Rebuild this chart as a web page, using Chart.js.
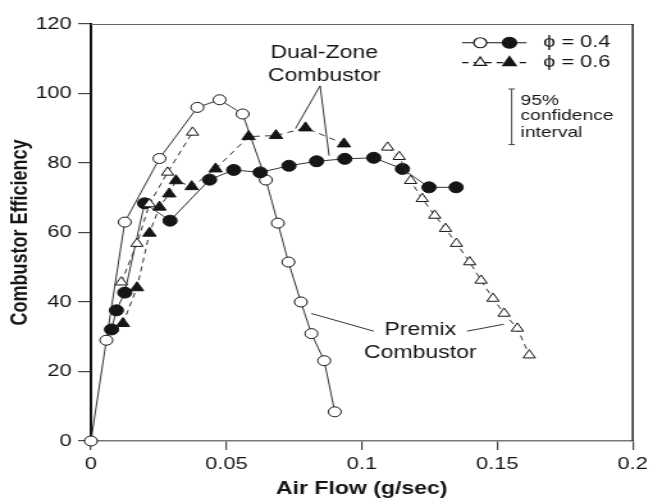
<!DOCTYPE html>
<html>
<head>
<meta charset="utf-8">
<script src="https://cdn.jsdelivr.net/npm/chart.js@4.4.0/dist/chart.umd.min.js"></script>
<style>
  html, body { margin: 0; padding: 0; background: #fff; overflow: hidden; }
  /* the source picture is stretched sideways, so draw narrow and stretch */
  #wrap { position: absolute; left: 0; top: 0; width: 510px; height: 500px;
          transform-origin: 0 0; transform: scaleX(1.2804); }
</style>
</head>
<body>
<div id="wrap"><canvas id="chart"></canvas></div>
<script>
// Premix combustor, phi = 0.4 (open circles)
const premix04X = [0, 0.0057, 0.0125, 0.0253, 0.0393, 0.0475, 0.056, 0.0646, 0.069, 0.0729, 0.0775, 0.0814, 0.0861, 0.090];
const premix04Y = [0, 29, 63, 81.3, 96, 98.2, 94.1, 75.1, 62.7, 51.5, 40, 30.9, 23.1, 8.4];

// Dual-zone combustor, phi = 0.4 (filled circles)
const dual04X = [0.0076, 0.0094, 0.0125, 0.0198, 0.0292, 0.0438, 0.0527, 0.0625, 0.0731, 0.0833, 0.0937, 0.1044, 0.115, 0.1248, 0.1348];
const dual04Y = [32.1, 37.6, 42.7, 68.4, 63.4, 75.2, 78.0, 77.3, 79.2, 80.5, 81.2, 81.5, 78.3, 73.0, 73.0];

// Premix combustor, phi = 0.6 (open triangles) - no data between the two branches
const premix06X = [0.0112, 0.017, 0.0216, 0.0283, 0.0375, 0.07, 0.1095, 0.1138, 0.118, 0.1223, 0.1269, 0.1309, 0.1349, 0.1398, 0.144, 0.1484, 0.1525, 0.1574, 0.1618];
const premix06Y = [45.7, 56.8, 68.2, 77.3, 88.8, null, 84.5, 81.8, 74.9, 69.7, 64.9, 61.1, 56.8, 51.5, 46.2, 41.0, 36.7, 32.4, 24.7];

// Dual-zone combustor, phi = 0.6 (filled triangles)
const dual06X = [0.0118, 0.017, 0.0216, 0.0253, 0.0289, 0.0314, 0.0372, 0.046, 0.0582, 0.0683, 0.0792, 0.0934];
const dual06Y = [33.8, 44.1, 59.8, 67.3, 71.1, 74.9, 73.2, 78.3, 87.6, 87.9, 90.1, 85.5];

const xTicks = [0, 0.05, 0.1, 0.15, 0.2];
const xTickLabels = ['0', '0.05', '0.1', '0.15', '0.2'];
const yTicks = [0, 20, 40, 60, 80, 100, 120];
const yTickLabels = ['0', '20', '40', '60', '80', '100', '120'];

const FONT = '"Liberation Sans", Arial, Helvetica, sans-serif';
const INK = '#151515';

function pts(xs, ys) {
  return xs.map((x, i) => ({ x: x, y: ys[i] }));
}

// where the notes sit, in data units
const notes = {
  dual: { x: 0.0861, y1: 111.7, y2: 105.1, apex: [0.0846, 102.2], ends: [[0.0755, 89.9], [0.0879, 82.1]] },
  premix: { x: 0.1216, y1: 31.9, y2: 25.3, lines: [[[0.0813, 36.7], [0.1044, 31.6]], [[0.1388, 31.6], [0.1524, 33.6]]] },
  legend: { x0: 0.137, x1: 0.1608, m1: 0.1437, m2: 0.1545, tx: 0.1669, y1: 114.6, y2: 108.9 },
  ci: { x: 0.1553, top: 101.3, bottom: 85.3, tx: 0.1586, ys: [97.9, 93.6, 88.8] }
};

function tri(ctx, x, y, r, fill) {
  ctx.beginPath();
  ctx.moveTo(x, y - r);
  ctx.lineTo(x + r * 0.866, y + r * 0.5);
  ctx.lineTo(x - r * 0.866, y + r * 0.5);
  ctx.closePath();
  ctx.fillStyle = fill ? INK : '#fff';
  ctx.fill();
  ctx.stroke();
}

function circ(ctx, x, y, r, fill) {
  ctx.beginPath();
  ctx.arc(x, y, r, 0, Math.PI * 2);
  ctx.fillStyle = fill ? INK : '#fff';
  ctx.fill();
  ctx.stroke();
}

const overlay = {
  id: 'overlay',
  beforeDatasetsDraw(chart) {
    const { ctx, chartArea: a } = chart;
    ctx.save();
    ctx.strokeStyle = '#666';
    ctx.lineWidth = 1;
    ctx.beginPath();
    ctx.moveTo(a.left, a.top + 0.5);
    ctx.lineTo(a.right, a.top + 0.5);
    ctx.stroke();
    ctx.strokeStyle = '#111';
    ctx.lineWidth = 1.4;
    ctx.beginPath();
    ctx.moveTo(a.right, a.top);
    ctx.lineTo(a.right, a.bottom);
    ctx.stroke();
    ctx.restore();
  },
  afterDatasetsDraw(chart) {
    const { ctx, scales: { x, y } } = chart;
    const px = v => x.getPixelForValue(v);
    const py = v => y.getPixelForValue(v);
    ctx.save();
    ctx.fillStyle = INK;
    ctx.strokeStyle = '#333';
    ctx.lineWidth = 1;

    // Dual-Zone Combustor
    ctx.font = '18px ' + FONT;
    ctx.textAlign = 'center';
    ctx.textBaseline = 'middle';
    ctx.fillText('Dual-Zone', px(notes.dual.x), py(notes.dual.y1));
    ctx.fillText('Combustor', px(notes.dual.x), py(notes.dual.y2));
    notes.dual.ends.forEach(e => {
      ctx.beginPath();
      ctx.moveTo(px(notes.dual.apex[0]), py(notes.dual.apex[1]));
      ctx.lineTo(px(e[0]), py(e[1]));
      ctx.stroke();
    });

    // Premix Combustor
    ctx.fillText('Premix', px(notes.premix.x), py(notes.premix.y1));
    ctx.fillText('Combustor', px(notes.premix.x), py(notes.premix.y2));
    notes.premix.lines.forEach(l => {
      ctx.beginPath();
      ctx.moveTo(px(l[0][0]), py(l[0][1]));
      ctx.lineTo(px(l[1][0]), py(l[1][1]));
      ctx.stroke();
    });

    // legend
    const L = notes.legend;
    ctx.strokeStyle = INK;
    ctx.lineWidth = 1.2;
    ctx.beginPath();
    ctx.moveTo(px(L.x0), py(L.y1));
    ctx.lineTo(px(L.x1), py(L.y1));
    ctx.stroke();
    circ(ctx, px(L.m1), py(L.y1), 5, false);
    circ(ctx, px(L.m2), py(L.y1), 5.5, true);
    ctx.setLineDash([5, 4]);
    ctx.beginPath();
    ctx.moveTo(px(L.x0), py(L.y2));
    ctx.lineTo(px(L.x1), py(L.y2));
    ctx.stroke();
    ctx.setLineDash([]);
    tri(ctx, px(L.m1), py(L.y2), 5.5, false);
    tri(ctx, px(L.m2), py(L.y2), 6, true);
    ctx.fillStyle = INK;
    ctx.font = '17px ' + FONT;
    ctx.textAlign = 'left';
    ctx.fillText('\u03d5 = 0.4', px(L.tx), py(L.y1));
    ctx.fillText('\u03d5 = 0.6', px(L.tx), py(L.y2));

    // 95% confidence interval bar
    const C = notes.ci;
    const cx = px(C.x);
    ctx.strokeStyle = '#444';
    ctx.lineWidth = 1;
    ctx.beginPath();
    ctx.moveTo(cx, py(C.top));
    ctx.lineTo(cx, py(C.bottom));
    ctx.moveTo(cx - 2.5, py(C.top));
    ctx.lineTo(cx + 2.5, py(C.top));
    ctx.moveTo(cx - 2.5, py(C.bottom));
    ctx.lineTo(cx + 2.5, py(C.bottom));
    ctx.stroke();
    ctx.font = '15px ' + FONT;
    ['95%', 'confidence', 'interval'].forEach((t, i) => {
      ctx.fillText(t, px(C.tx), py(C.ys[i]));
    });
    ctx.restore();
  }
};

const ctx = document.getElementById('chart').getContext('2d');
new Chart(ctx, {
  type: 'scatter',
  data: {
    datasets: [
      {
        label: 'Premix phi=0.6',
        data: pts(premix06X, premix06Y),
        showLine: true,
        spanGaps: false,
        borderColor: '#333',
        borderWidth: 1,
        borderDash: [5, 4],
        pointStyle: 'triangle',
        pointRadius: 5.5,
        pointBackgroundColor: '#fff',
        pointBorderColor: INK,
        pointBorderWidth: 1
      },
      {
        label: 'Dual phi=0.6',
        data: pts(dual06X, dual06Y),
        showLine: true,
        borderColor: '#333',
        borderWidth: 1,
        borderDash: [5, 4],
        pointStyle: 'triangle',
        pointRadius: 6,
        pointBackgroundColor: INK,
        pointBorderColor: INK,
        pointBorderWidth: 1
      },
      {
        label: 'Dual phi=0.4',
        data: pts(dual04X, dual04Y),
        showLine: true,
        borderColor: '#333',
        borderWidth: 1,
        pointStyle: 'circle',
        pointRadius: 5.5,
        pointBackgroundColor: INK,
        pointBorderColor: INK,
        pointBorderWidth: 1
      },
      {
        label: 'Premix phi=0.4',
        data: pts(premix04X, premix04Y),
        showLine: true,
        clip: false,
        borderColor: '#333',
        borderWidth: 1,
        pointStyle: 'circle',
        pointRadius: 5,
        pointBackgroundColor: '#fff',
        pointBorderColor: INK,
        pointBorderWidth: 1
      }
    ]
  },
  options: {
    responsive: true,
    maintainAspectRatio: false,
    animation: false,
    layout: { padding: { top: 24, right: 12, left: 0, bottom: 0 } },
    plugins: {
      legend: { display: false },
      tooltip: { enabled: false }
    },
    scales: {
      x: {
        type: 'linear',
        min: 0,
        max: 0.2,
        afterFit: s => { s.height = 59; },
        afterBuildTicks: s => { s.ticks = xTicks.map(v => ({ value: v })); },
        ticks: {
          callback: (v, i) => xTickLabels[i],
          color: INK,
          font: { family: FONT, size: 17 },
          padding: 4,
          maxRotation: 0
        },
        grid: { drawOnChartArea: false, drawTicks: true, tickLength: 9, color: '#444', lineWidth: 1.2 },
        border: { display: true, color: '#777', width: 1.5 },
        title: {
          display: true,
          text: 'Air Flow (g/sec)',
          color: INK,
          font: { family: FONT, size: 18, weight: 'bold' },
          padding: { top: 0, bottom: 0 }
        }
      },
      y: {
        type: 'linear',
        min: 0,
        max: 120,
        afterFit: s => { s.width = 71; },
        afterBuildTicks: s => { s.ticks = yTicks.map(v => ({ value: v })); },
        ticks: {
          callback: (v, i) => yTickLabels[i],
          color: INK,
          font: { family: FONT, size: 17 },
          padding: 5
        },
        grid: { drawOnChartArea: false, drawTicks: true, tickLength: 10, color: '#444', lineWidth: 1.2 },
        border: { display: true, color: '#111', width: 2 },
        title: {
          display: true,
          text: 'Combustor Efficiency',
          color: INK,
          font: { family: FONT, size: 18, weight: 'bold' },
          padding: { top: 5, bottom: 0 }
        }
      }
    }
  },
  plugins: [overlay]
});
</script>
</body>
</html>
